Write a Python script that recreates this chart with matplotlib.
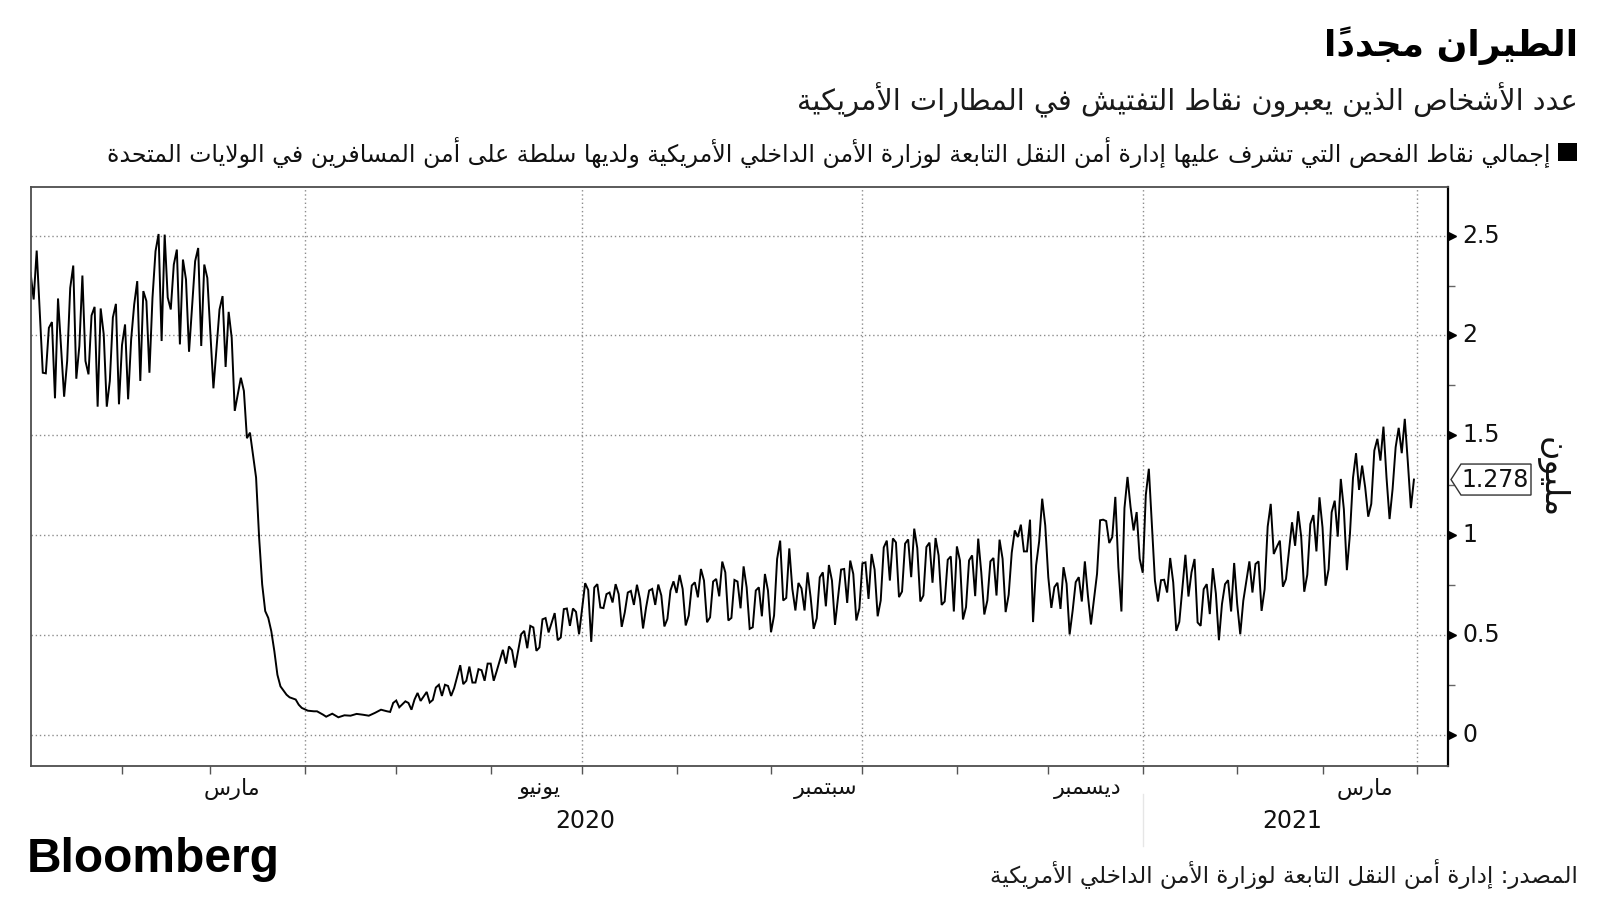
import matplotlib
matplotlib.use('Agg')
import matplotlib.pyplot as plt
import matplotlib.dates as mdates
import matplotlib.transforms as mtrans
from matplotlib.patches import Polygon, Rectangle
import pandas as pd

# TSA checkpoint throughput, millions of people per day
# day = days since 2020-01-01, read off the chart quarter by quarter
q1_2020_day = [1, 2, 3, 5, 6, 7, 8, 9, 10, 12, 13, 14, 15, 16, 17, 18, 19, 20, 21, 22,
               23, 24, 25, 26, 27, 28, 29, 30, 31, 32, 33, 34, 35, 36, 37, 38, 39, 40,
               41, 42, 43, 44, 45, 46, 47, 48, 49, 50, 51, 52, 53, 55, 56, 57, 58, 59,
               61, 63, 64, 65, 66, 67, 68, 70, 71, 72, 73, 75, 76, 77, 78, 79, 80, 81,
               82, 83, 85, 86, 88, 89, 90]
q1_2020_val = [2.313, 2.18, 2.425, 1.813, 1.81, 2.038, 2.067, 1.685, 2.185, 1.693, 1.872,
               2.238, 2.35, 1.783, 1.947, 2.30, 1.872, 1.805, 2.10, 2.143, 1.643, 2.135,
               2.005, 1.643, 1.772, 2.09, 2.158, 1.655, 1.952, 2.055, 1.68, 1.98, 2.155,
               2.272, 1.772, 2.222, 2.172, 1.813, 2.188, 2.422, 2.508, 1.972, 2.505, 2.19,
               2.13, 2.355, 2.43, 1.955, 2.38, 2.28, 1.918, 2.372, 2.438, 1.947, 2.355,
               2.288, 1.735, 2.13, 2.197, 1.842, 2.118, 1.988, 1.622, 1.788, 1.722, 1.485,
               1.513, 1.288, 0.987, 0.753, 0.619, 0.585, 0.518, 0.418, 0.30, 0.242, 0.20,
               0.187, 0.176, 0.15, 0.134]

q2_2020_day = [92, 94, 95, 97, 98, 100, 102, 104, 106, 108, 110, 112, 114, 115, 116, 118,
               119, 120, 121, 122, 124, 125, 126, 127, 128, 129, 131, 132, 133, 134, 135,
               136, 137, 138, 139, 140, 142, 143, 144, 145, 146, 147, 148, 149, 150, 151,
               152, 153, 154, 156, 157, 158, 159, 160, 162, 163, 164, 165, 166, 167, 168,
               169, 170, 171, 173, 174, 175, 176, 177, 178, 179, 180, 181]
q2_2020_val = [0.12, 0.117, 0.117, 0.10, 0.09, 0.105, 0.087, 0.097, 0.095, 0.104, 0.10,
               0.095, 0.109, 0.117, 0.125, 0.117, 0.114, 0.159, 0.171, 0.137, 0.167, 0.159,
               0.125, 0.176, 0.209, 0.169, 0.214, 0.161, 0.174, 0.236, 0.25, 0.194, 0.25,
               0.244, 0.194, 0.233, 0.348, 0.253, 0.27, 0.341, 0.261, 0.261, 0.328, 0.323,
               0.27, 0.356, 0.356, 0.27, 0.32, 0.425, 0.356, 0.442, 0.423, 0.336, 0.503,
               0.52, 0.433, 0.545, 0.537, 0.42, 0.437, 0.578, 0.584, 0.512, 0.609, 0.473,
               0.487, 0.629, 0.632, 0.545, 0.632, 0.615, 0.503]

q3_2020_day = [183, 184, 185, 186, 187, 188, 189, 190, 191, 192, 193, 194, 195, 196, 197,
               198, 199, 200, 201, 202, 203, 204, 205, 206, 207, 208, 209, 210, 211, 212,
               213, 214, 215, 216, 217, 218, 219, 220, 221, 222, 223, 224, 225, 226, 227,
               228, 229, 230, 231, 232, 233, 234, 235, 236, 237, 238, 239, 240, 241, 242,
               243, 244, 245, 246, 247, 248, 249, 250, 251, 252, 253, 254, 255, 256, 257,
               258, 259, 260, 261, 262, 263, 264, 265, 267, 268, 269, 270, 271, 272, 273]
q3_2020_val = [0.759, 0.725, 0.465, 0.737, 0.754, 0.637, 0.634, 0.704, 0.712, 0.662, 0.754,
               0.704, 0.54, 0.612, 0.712, 0.72, 0.65, 0.751, 0.679, 0.532, 0.637, 0.722,
               0.73, 0.65, 0.752, 0.697, 0.542, 0.58, 0.722, 0.768, 0.71, 0.80, 0.73, 0.547,
               0.597, 0.747, 0.763, 0.688, 0.83, 0.772, 0.563, 0.588, 0.767, 0.78, 0.693,
               0.867, 0.813, 0.572, 0.585, 0.775, 0.767, 0.633, 0.843, 0.738, 0.53, 0.538,
               0.722, 0.738, 0.593, 0.805, 0.722, 0.513, 0.597, 0.88, 0.972, 0.672, 0.685,
               0.933, 0.73, 0.622, 0.76, 0.733, 0.622, 0.813, 0.688, 0.53, 0.583, 0.788,
               0.813, 0.643, 0.85, 0.772, 0.55, 0.827, 0.83, 0.66, 0.872, 0.805, 0.572, 0.633]

q4_2020_day = list(range(274, 366))
q4_2020_val = [0.858, 0.863, 0.68, 0.905, 0.827, 0.593, 0.672, 0.938, 0.972, 0.772, 0.983,
               0.963, 0.689, 0.717, 0.957, 0.978, 0.789, 1.032, 0.935, 0.667, 0.697, 0.94,
               0.962, 0.761, 0.985, 0.898, 0.65, 0.667, 0.876, 0.893, 0.617, 0.943, 0.873,
               0.577, 0.639, 0.873, 0.898, 0.694, 0.982, 0.814, 0.602, 0.672, 0.868, 0.885,
               0.697, 0.977, 0.881, 0.614, 0.701, 0.911, 1.023, 0.99, 1.052, 0.918, 0.918,
               1.077, 0.564, 0.848, 0.968, 1.182, 1.048, 0.789, 0.635, 0.739, 0.761, 0.630,
               0.839, 0.756, 0.502, 0.622, 0.764, 0.789, 0.667, 0.868, 0.697, 0.552, 0.681,
               0.806, 1.074, 1.077, 1.07, 0.96, 0.99, 1.191, 0.839, 0.617, 1.135, 1.291,
               1.14, 1.023, 1.115, 0.881]

q1_2021_day = [366, 367, 368, 370, 371, 372, 373, 374, 375, 376, 377, 378, 380, 381, 382,
               383, 384, 385, 386, 387, 388, 389, 390, 391, 392, 393, 394, 395, 396, 397,
               398, 399, 401, 402, 403, 404, 405, 406, 407, 408, 409, 410, 411, 412, 413,
               414, 415, 416, 417, 418, 419, 420, 421, 422, 423, 424, 425, 426, 427, 428,
               429, 430, 431, 432, 433, 434, 435, 436, 437, 438, 439, 440, 441, 442, 443,
               444, 445, 446, 447, 448, 449, 450, 451, 452, 453, 454, 455]
q1_2021_val = [0.811, 1.2, 1.332, 0.771, 0.667, 0.774, 0.776, 0.712, 0.885, 0.763, 0.52,
               0.565, 0.901, 0.692, 0.813, 0.880, 0.562, 0.545, 0.729, 0.754, 0.604, 0.834,
               0.707, 0.473, 0.654, 0.754, 0.774, 0.617, 0.86, 0.654, 0.503, 0.671, 0.868,
               0.712, 0.855, 0.868, 0.62, 0.729, 1.042, 1.156, 0.905, 0.941, 0.972, 0.741,
               0.779, 0.921, 1.064, 0.946, 1.119, 0.992, 0.716, 0.801, 1.055, 1.1, 0.918,
               1.189, 1.038, 0.746, 0.829, 1.114, 1.172, 0.992, 1.281, 1.13, 0.824, 1.005,
               1.286, 1.41, 1.226, 1.348, 1.239, 1.092, 1.156, 1.423, 1.482, 1.373, 1.543,
               1.289, 1.08, 1.231, 1.44, 1.537, 1.41, 1.582, 1.365, 1.135, 1.278]

last_value = 1.278
y_ticks = [0, 0.5, 1, 1.5, 2, 2.5]
y_tick_labels = ['0', '0.5', '1', '1.5', '2', '2.5']
month_labels = ['مارس', 'يونيو', 'سبتمبر', 'ديسمبر', 'مارس']
month_label_dates = ['2020-03-08', '2020-06-17', '2020-09-19', '2020-12-14', '2021-03-15']
year_labels = ['2020', '2021']
year_label_dates = ['2020-07-02', '2021-02-19']

title = 'الطيران مجدداً'
subtitle = 'عدد الأشخاص الذين يعبرون نقاط التفتيش في المطارات الأمريكية'
legend_txt = ('إجمالي نقاط الفحص التي تشرف عليها إدارة أمن النقل التابعة لوزارة الأمن '
              'الداخلي الأمريكية ولديها سلطة على أمن المسافرين في الولايات المتحدة')
source_txt = 'المصدر: إدارة أمن النقل التابعة لوزارة الأمن الداخلي الأمريكية'
unit_txt = 'مليون'


#%% matplotlib has no arabic shaping, so pick the joined letter forms and reverse
_forms = {}
for base, first, n in [(0x0621, 0xFE80, 1), (0x0622, 0xFE81, 2), (0x0623, 0xFE83, 2),
                       (0x0624, 0xFE85, 2), (0x0625, 0xFE87, 2), (0x0626, 0xFE89, 4),
                       (0x0627, 0xFE8D, 2), (0x0628, 0xFE8F, 4), (0x0629, 0xFE93, 2),
                       (0x062A, 0xFE95, 4), (0x062B, 0xFE99, 4), (0x062C, 0xFE9D, 4),
                       (0x062D, 0xFEA1, 4), (0x062E, 0xFEA5, 4), (0x062F, 0xFEA9, 2),
                       (0x0630, 0xFEAB, 2), (0x0631, 0xFEAD, 2), (0x0632, 0xFEAF, 2),
                       (0x0633, 0xFEB1, 4), (0x0634, 0xFEB5, 4), (0x0635, 0xFEB9, 4),
                       (0x0636, 0xFEBD, 4), (0x0637, 0xFEC1, 4), (0x0638, 0xFEC5, 4),
                       (0x0639, 0xFEC9, 4), (0x063A, 0xFECD, 4), (0x0641, 0xFED1, 4),
                       (0x0642, 0xFED5, 4), (0x0643, 0xFED9, 4), (0x0644, 0xFEDD, 4),
                       (0x0645, 0xFEE1, 4), (0x0646, 0xFEE5, 4), (0x0647, 0xFEE9, 4),
                       (0x0648, 0xFEED, 2), (0x0649, 0xFEEF, 2), (0x064A, 0xFEF1, 4)]:
    _forms[chr(base)] = [chr(first + k) for k in range(n)]
_lamalef = {'\u0622': ['\uFEF5', '\uFEF6'], '\u0623': ['\uFEF7', '\uFEF8'],
            '\u0625': ['\uFEF9', '\uFEFA'], '\u0627': ['\uFEFB', '\uFEFC']}


def ar(s):
    toks = []  # [forms or None, plain char, marks]
    i = 0
    while i < len(s):
        c = s[i]
        if '\u064B' <= c <= '\u0652' and toks:
            toks[-1][2] += c
        elif c == '\u0644' and i + 1 < len(s) and s[i + 1] in _lamalef:
            toks.append([_lamalef[s[i + 1]], c, ''])
            i += 1
        else:
            toks.append([_forms.get(c), c, ''])
        i += 1
    out = []
    for j, (f, c, m) in enumerate(toks):
        if f is None:
            out.append(c + m)
            continue
        prev = j > 0 and toks[j - 1][0] is not None and len(toks[j - 1][0]) == 4
        nxt = (len(f) == 4 and j + 1 < len(toks) and toks[j + 1][0] is not None
               and len(toks[j + 1][0]) >= 2)
        if prev and nxt:
            g = f[3]
        elif prev and len(f) >= 2:
            g = f[1]
        elif nxt:
            g = f[2]
        else:
            g = f[0]
        out.append(g + m)
    return ''.join(out[::-1])


#%% plot
W, H = 1600, 900
fx = lambda x: x / W
fy = lambda y: 1 - y / H

days = q1_2020_day + q2_2020_day + q3_2020_day + q4_2020_day + q1_2021_day
vals = q1_2020_val + q2_2020_val + q3_2020_val + q4_2020_val + q1_2021_val
dates = pd.Timestamp('2020-01-01') + pd.to_timedelta(days, unit='D')

ax_l, ax_r, ax_t, ax_b = 30.6, 1447.7, 186.7, 766.0
fig = plt.figure(figsize=(16, 9), dpi=100)
ax = fig.add_axes([fx(ax_l), fy(ax_b), (ax_r - ax_l) / W, (ax_b - ax_t) / H])

ax.plot(dates, vals, color='black', lw=1.4, solid_joinstyle='miter')

ax.set_xlim(pd.Timestamp('2020-01-02'), pd.Timestamp('2021-04-11 02:00'))
ax.set_ylim(-0.157, 2.745)

# axes frame
for side in ['left', 'top', 'bottom']:
    ax.spines[side].set_color('#4d4d4d')
    ax.spines[side].set_linewidth(1.3)
ax.spines['right'].set_color('black')
ax.spines['right'].set_linewidth(1.6)

# x: grid on quarter starts, small ticks on every month
ax.xaxis.set_major_locator(mdates.MonthLocator(bymonth=[1, 4, 7, 10]))
ax.xaxis.set_minor_locator(mdates.MonthLocator())
ax.tick_params(axis='x', which='both', direction='out', length=6, width=1,
               color='#555555', labelbottom=False)
ax.grid(axis='x', which='major', ls=(0, (1, 2)), color='#8c8c8c', lw=1)

# y on the right, with arrow heads for the major ticks
ax.yaxis.tick_right()
ax.set_yticks(y_ticks)
ax.set_yticks([0.25, 0.75, 1.25, 1.75, 2.25], minor=True)
ax.tick_params(axis='y', which='major', length=0, labelright=False)
ax.tick_params(axis='y', which='minor', direction='out', length=5, width=1, color='#666666')
ax.grid(axis='y', which='major', ls=(0, (1, 2)), color='#8c8c8c', lw=1)

ytr = mtrans.blended_transform_factory(ax.transAxes, ax.transData)
xtr = mtrans.blended_transform_factory(ax.transData, ax.transAxes)
px_x = 1 / (ax_r - ax_l)
ax.plot([1 + 4.5 * px_x] * len(y_ticks), y_ticks, ls='none', marker='>', ms=6,
        color='black', transform=ytr, clip_on=False)
for v, lab in zip(y_ticks, y_tick_labels):
    ax.text(1 + 15 * px_x, v, lab, transform=ytr, ha='left', va='center',
            fontsize=17, color='#111111')

# month and year labels under the axis
px_y = 1 / (ax_b - ax_t)
for d, lab in zip(month_label_dates, month_labels):
    ax.text(pd.Timestamp(d), -23 * px_y, ar(lab), transform=xtr, ha='center',
            va='center', fontsize=16, color='#111111')
for d, lab in zip(year_label_dates, year_labels):
    ax.text(pd.Timestamp(d), -55 * px_y, lab, transform=xtr, ha='center',
            va='center', fontsize=17, color='#111111')
ax.plot([pd.Timestamp('2021-01-01')] * 2, [-28 * px_y, -80 * px_y], color='#e6e6e6',
        lw=1, transform=xtr, clip_on=False)

# last value callout
fig.canvas.draw()
yv = ax.transData.transform((0, last_value))[1]
tip, left, right, hh = 1451, 1461, 1531, 15.5
box = Polygon([(tip, yv), (left, yv + hh), (right, yv + hh), (right, yv - hh),
               (left, yv - hh)], closed=True, transform=None, facecolor='white',
              edgecolor='#333333', lw=1, clip_on=False)
fig.patches.append(box)
fig.text(fx((left + right) / 2 - 1), yv / H, f'{last_value:.3f}', ha='center',
         va='center', fontsize=17, color='#111111')
fig.text(fx(1551), fy(478), ar(unit_txt), rotation=-90, ha='center', va='center',
         fontsize=24, color='#111111')

# header
fig.text(fx(1578), fy(46), ar(title), ha='right', va='center', fontsize=26,
         fontweight='bold', color='black')
fig.text(fx(1578), fy(100), ar(subtitle), ha='right', va='center', fontsize=20.7,
         color='#1a1a1a')
fig.patches.append(Rectangle((fx(1558), fy(161)), 19 / W, 18 / H, transform=fig.transFigure,
                             facecolor='black', edgecolor='none'))
fig.text(fx(1550), fy(152), ar(legend_txt), ha='right', va='center', fontsize=17,
         color='#111111')

# footer
fig.text(fx(27), fy(860), 'Bloomberg', ha='left', va='center', fontsize=34.5,
         fontweight='bold', family='Liberation Sans', color='black')
fig.text(fx(1578), fy(874), ar(source_txt), ha='right', va='center', fontsize=16.6,
         color='#1a1a1a')

plt.savefig('out.png', dpi=100)
